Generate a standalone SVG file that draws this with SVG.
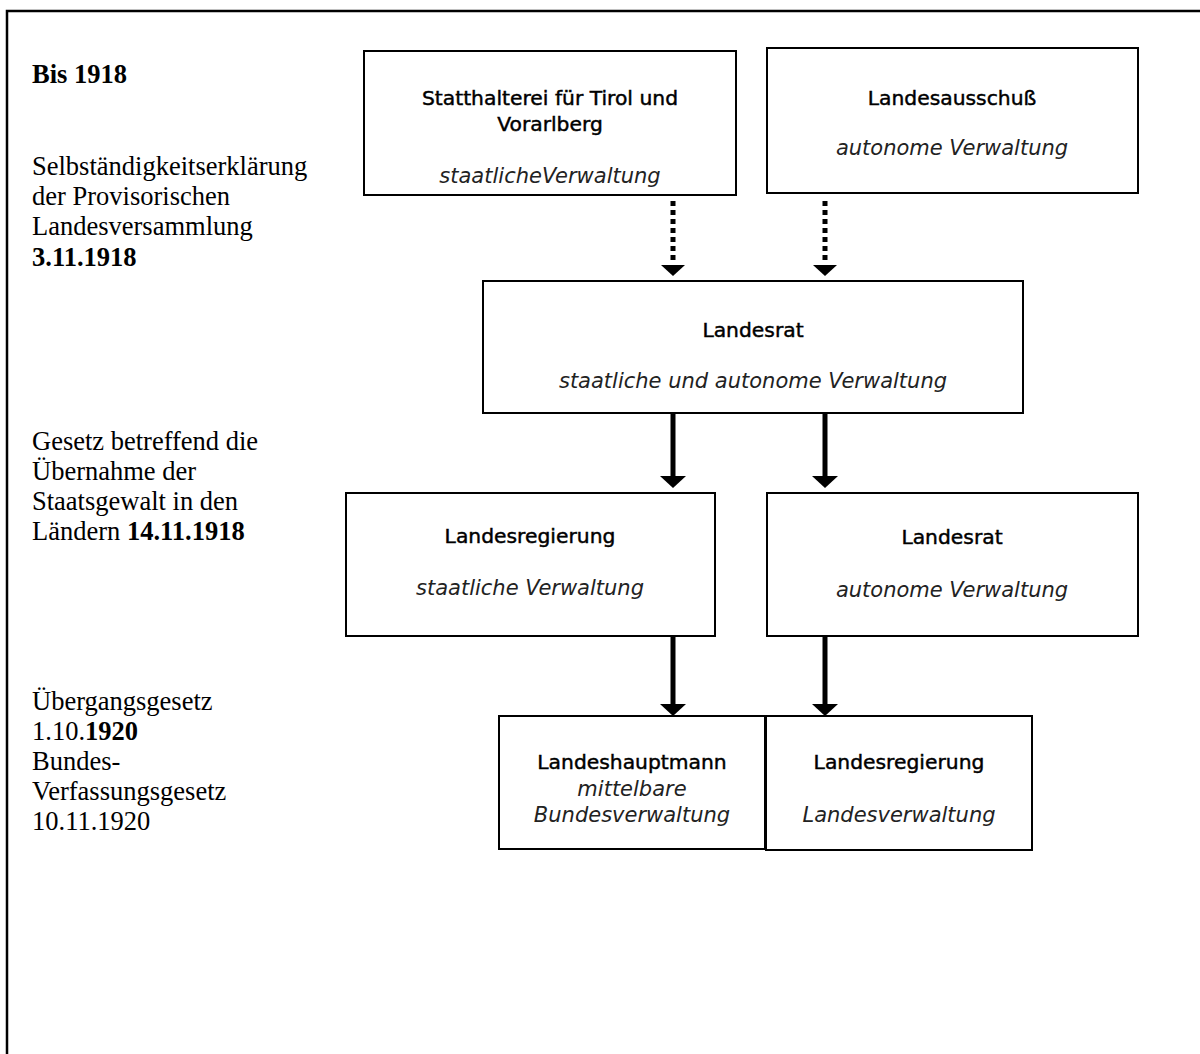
<svg xmlns="http://www.w3.org/2000/svg" width="1200" height="1054" viewBox="0 0 1200 1054">
<style>
.box{fill:#fff;stroke:#000;stroke-width:2}
.frame{fill:none;stroke:#000;stroke-width:2.5}
.side{font-family:"Liberation Serif","Times New Roman",serif;font-size:26.5px;fill:#000}
.b{font-weight:bold}
.t{font-family:"DejaVu Sans",Verdana,sans-serif;font-size:20.3px;fill:#000;stroke:#000;stroke-width:0.45;text-anchor:middle}
.i{font-family:"DejaVu Sans",Verdana,sans-serif;font-size:21px;font-style:italic;fill:#222;text-anchor:middle}
.dot{stroke:#000;stroke-width:5;stroke-dasharray:5 4;fill:none}
.sol{stroke:#000;stroke-width:5;fill:none}
.head{fill:#000}
</style>
<rect width="1200" height="1054" fill="#fff"/>
<path class="frame" d="M7,1054 V11 H1200"/>

<g id="labels">
<text class="side b" x="32" y="83">Bis 1918</text>
<text class="side" x="32" y="175">Selbständigkeitserklärung</text>
<text class="side" x="32" y="205">der Provisorischen</text>
<text class="side" x="32" y="235">Landesversammlung</text>
<text class="side b" x="32" y="266">3.11.1918</text>
<text class="side" x="32" y="450">Gesetz betreffend die</text>
<text class="side" x="32" y="480">Übernahme der</text>
<text class="side" x="32" y="510">Staatsgewalt in den</text>
<text class="side" x="32" y="540">Ländern <tspan class="b">14.11.1918</tspan></text>
<text class="side" x="32" y="710">Übergangsgesetz</text>
<text class="side" x="32" y="740">1.10.<tspan class="b">1920</tspan></text>
<text class="side" x="32" y="770">Bundes-</text>
<text class="side" x="32" y="800">Verfassungsgesetz</text>
<text class="side" x="32" y="830">10.11.1920</text>
</g>

<g id="connectors">
<line class="dot" x1="673" y1="201" x2="673" y2="260"/>
<polygon class="head" points="661,265 685,265 673,276"/>
<line class="dot" x1="825" y1="201" x2="825" y2="260"/>
<polygon class="head" points="813,265 837,265 825,276"/>
<line class="sol" x1="673" y1="413" x2="673" y2="478"/>
<polygon class="head" points="660,476 686,476 673,488"/>
<line class="sol" x1="825" y1="413" x2="825" y2="478"/>
<polygon class="head" points="812,476 838,476 825,488"/>
<line class="sol" x1="673" y1="636" x2="673" y2="706"/>
<polygon class="head" points="660,704 686,704 673,716"/>
<line class="sol" x1="825" y1="636" x2="825" y2="706"/>
<polygon class="head" points="812,704 838,704 825,716"/>
</g>

<g id="statthalterei">
<rect class="box" x="364" y="51" width="372" height="144"/>
<text class="t" x="550" y="105">Statthalterei für Tirol und</text>
<text class="t" x="550" y="131">Vorarlberg</text>
<text class="i" x="550" y="183">staatlicheVerwaltung</text>
</g>

<g id="landesausschuss">
<rect class="box" x="767" y="48" width="371" height="145"/>
<text class="t" x="952" y="105">Landesausschuß</text>
<text class="i" x="952" y="155">autonome Verwaltung</text>
</g>

<g id="landesrat1">
<rect class="box" x="483" y="281" width="540" height="132"/>
<text class="t" x="753" y="337">Landesrat</text>
<text class="i" x="753" y="388">staatliche und autonome Verwaltung</text>
</g>

<g id="landesregierung1">
<rect class="box" x="346" y="493" width="369" height="143"/>
<text class="t" x="530" y="543">Landesregierung</text>
<text class="i" x="530" y="595">staatliche Verwaltung</text>
</g>

<g id="landesrat2">
<rect class="box" x="767" y="493" width="371" height="143"/>
<text class="t" x="952" y="544">Landesrat</text>
<text class="i" x="952" y="597">autonome Verwaltung</text>
</g>

<g id="landeshauptmann">
<rect class="box" x="499" y="716" width="266" height="133"/>
<text class="t" x="632" y="769">Landeshauptmann</text>
<text class="i" x="632" y="796">mittelbare</text>
<text class="i" x="632" y="822">Bundesverwaltung</text>
</g>

<g id="landesregierung2">
<rect class="box" x="766" y="716" width="266" height="134"/>
<text class="t" x="899" y="769">Landesregierung</text>
<text class="i" x="899" y="822">Landesverwaltung</text>
</g>
</svg>
